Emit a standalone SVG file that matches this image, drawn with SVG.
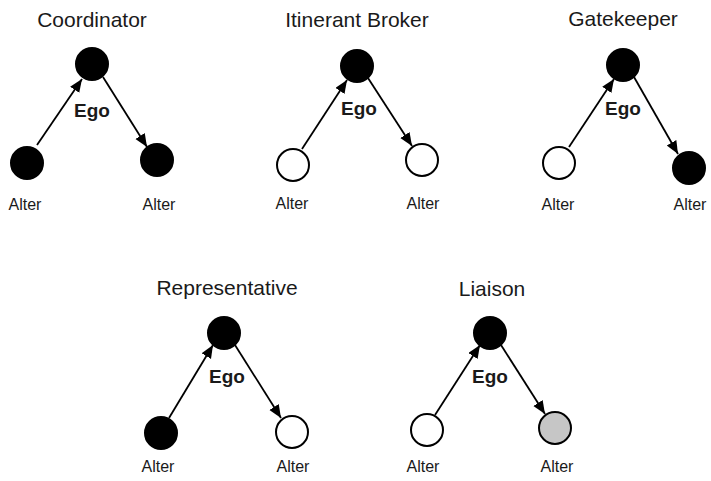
<svg xmlns="http://www.w3.org/2000/svg" width="711" height="481" viewBox="0 0 711 481">
<style>
.t{font-family:"Liberation Sans",Arial,sans-serif;font-size:21px;fill:#1a1a1a;text-anchor:middle}
.e{font-family:"Liberation Sans",Arial,sans-serif;font-size:19px;font-weight:bold;fill:#1a1a1a;text-anchor:middle}
.a{font-family:"Liberation Sans",Arial,sans-serif;font-size:16px;fill:#1a1a1a;text-anchor:middle}
.b{fill:#000;stroke:#000;stroke-width:2}
.w{fill:#fff;stroke:#000;stroke-width:2}
.g{fill:#c6c6c6;stroke:#000;stroke-width:2}
.c{stroke:#000;stroke-width:1.8;fill:none;marker-end:url(#ah)}
</style>
<defs>
<marker id="ah" markerUnits="userSpaceOnUse" markerWidth="15" markerHeight="13" refX="13" refY="5.5" orient="auto">
<path d="M0,0 L13,5.5 L0,11 Z" fill="#000"/>
</marker>
</defs>
<rect width="711" height="481" fill="#fff"/>
<g id="coordinator">
<text class="t" x="92" y="27">Coordinator</text>
<circle id="coord-ego" class="b" cx="92" cy="64" r="16"/>
<circle id="coord-alter1" class="b" cx="27" cy="163" r="16"/>
<circle id="coord-alter2" class="b" cx="157" cy="160" r="16"/>
<text class="e" x="92" y="117">Ego</text>
<text class="a" x="25" y="210">Alter</text>
<text class="a" x="159" y="210">Alter</text>
</g>
<g id="itinerant-broker">
<text class="t" x="357" y="27">Itinerant Broker</text>
<circle id="itin-ego" class="b" cx="357" cy="66" r="16"/>
<circle id="itin-alter1" class="w" cx="293" cy="165" r="16"/>
<circle id="itin-alter2" class="w" cx="422" cy="160" r="16"/>
<text class="e" x="359" y="115">Ego</text>
<text class="a" x="292" y="209">Alter</text>
<text class="a" x="423" y="209">Alter</text>
</g>
<g id="gatekeeper">
<text class="t" x="623" y="26">Gatekeeper</text>
<circle id="gate-ego" class="b" cx="623" cy="65" r="16"/>
<circle id="gate-alter1" class="w" cx="559" cy="163" r="16"/>
<circle id="gate-alter2" class="b" cx="689" cy="168" r="16"/>
<text class="e" x="623" y="115">Ego</text>
<text class="a" x="558" y="210">Alter</text>
<text class="a" x="690" y="210">Alter</text>
</g>
<g id="representative">
<text class="t" x="227" y="295">Representative</text>
<circle id="rep-ego" class="b" cx="224" cy="333" r="16"/>
<circle id="rep-alter1" class="b" cx="161" cy="433" r="16"/>
<circle id="rep-alter2" class="w" cx="292" cy="432" r="16"/>
<text class="e" x="227" y="383">Ego</text>
<text class="a" x="158" y="472">Alter</text>
<text class="a" x="293" y="472">Alter</text>
</g>
<g id="liaison">
<text class="t" x="492" y="296">Liaison</text>
<circle id="liai-ego" class="b" cx="490" cy="333" r="16"/>
<circle id="liai-alter1" class="w" cx="427" cy="430" r="16"/>
<circle id="liai-alter2" class="g" cx="555" cy="428" r="16"/>
<text class="e" x="490" y="383">Ego</text>
<text class="a" x="423" y="472">Alter</text>
<text class="a" x="557" y="472">Alter</text>
</g>
<g id="connectors">
<line class="c" x1="37" y1="145" x2="82" y2="79"/>
<line class="c" x1="103" y1="77" x2="147" y2="147"/>
<line class="c" x1="302" y1="149" x2="347" y2="80"/>
<line class="c" x1="368" y1="78" x2="412" y2="146"/>
<line class="c" x1="569" y1="147" x2="614" y2="79"/>
<line class="c" x1="634" y1="77" x2="678" y2="154"/>
<line class="c" x1="169" y1="418" x2="213" y2="345"/>
<line class="c" x1="235" y1="345" x2="281" y2="418"/>
<line class="c" x1="435" y1="415" x2="480" y2="345"/>
<line class="c" x1="501" y1="345" x2="545" y2="414"/>
</g>
</svg>
